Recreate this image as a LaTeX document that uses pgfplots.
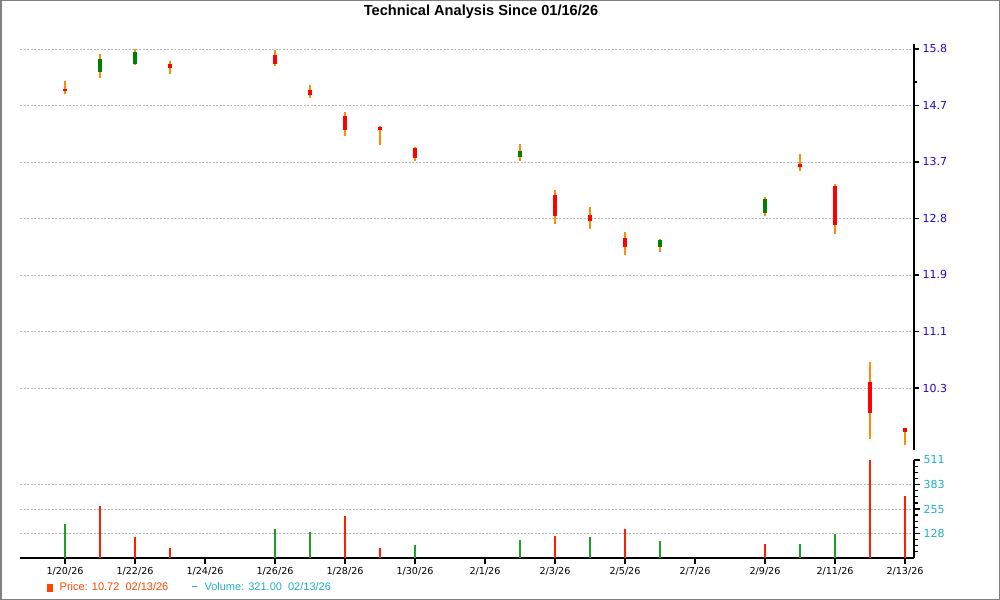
\documentclass[border=0pt]{standalone}
\usepackage{pgfplots}
\pgfplotsset{compat=1.18}
\usepackage{fontspec}
\setmainfont{Liberation Sans}
\newfontfamily\dvs{DejaVu Sans}
\definecolor{pblue}{RGB}{30,10,200}
\definecolor{vteal}{RGB}{30,175,195}
\definecolor{cred}{RGB}{255,0,0}
\definecolor{cgreen}{RGB}{0,128,0}
\definecolor{wick}{RGB}{255,140,0}
\definecolor{vred}{RGB}{255,30,0}
\definecolor{vgreen}{RGB}{30,160,40}
\definecolor{gridc}{RGB}{185,185,185}
\definecolor{legred}{RGB}{255,69,0}
\newcommand\candle[6]{%
  \addplot[wick, line width=1.3bp] coordinates {(#1,#3) (#1,#4)};
  \addplot[#6, line width=4.5bp] coordinates {(#1,#2) (#1,#5)};
}
\begin{document}
\begin{tikzpicture}
\path[use as bounding box] (0,0) rectangle (1000bp,600bp);
\draw[gray, line width=1.5bp] (0.75bp,0.75bp) rectangle (999.25bp,599.25bp);
\node[font=\bfseries\fontsize{14.6bp}{16bp}\selectfont] at (481bp,588bp) {Technical Analysis Since 01/16/26};
\begin{axis}[
  at={(20bp,150bp)}, anchor=south west,
  width=894bp, height=406bp, scale only axis,
  xmin=-1.286, xmax=24.257,
  ymode=log, ymin=9.526, ymax=15.90,
  axis x line=none, xtick=\empty,
  axis y line*=right,
  axis line style={line width=2bp, black},
  ytick={10.30,11.06,11.88,12.76,13.70,14.71,15.80},
  yticklabels={10.3,11.1,11.9,12.8,13.7,14.7,15.8},
  extra y ticks={15.156}, extra y tick labels={},
  extra y tick style={grid=none, major tick length=3bp},
  minor y tick num=0,
  yticklabel style={font=\dvs\fontsize{11bp}{12bp}\selectfont, text=pblue},
  ymajorgrids,
  major grid style={gridc, dashed, line width=0.8bp, dash pattern=on 2bp off 1.5bp},
  tick align=outside, major tick length=5bp,
  tick style={black, line width=1.2bp},
  /pgf/number format/assume math mode=true,
]
\candle{0}{15.03}{15.17}{14.93}{14.99}{cred}
\candle{1}{15.34}{15.70}{15.24}{15.60}{cgreen}
\candle{2}{15.50}{15.80}{15.49}{15.73}{cgreen}
\candle{3}{15.50}{15.56}{15.30}{15.42}{cred}
\candle{6}{15.69}{15.78}{15.47}{15.51}{cred}
\candle{7}{15.00}{15.10}{14.86}{14.90}{cred}
\candle{8}{14.51}{14.59}{14.16}{14.26}{cred}
\candle{9}{14.32}{14.34}{14.00}{14.26}{cred}
\candle{10}{13.94}{13.96}{13.71}{13.77}{cred}
\candle{13}{13.78}{14.01}{13.72}{13.89}{cgreen}
\candle{14}{13.14}{13.22}{12.67}{12.80}{cred}
\candle{15}{12.81}{12.94}{12.59}{12.71}{cred}
\candle{16}{12.45}{12.54}{12.19}{12.30}{cred}
\candle{17}{12.30}{12.43}{12.23}{12.41}{cgreen}
\candle{20}{12.84}{13.11}{12.80}{13.07}{cgreen}
\candle{21}{13.66}{13.84}{13.55}{13.61}{cred}
\candle{22}{13.29}{13.32}{12.51}{12.65}{cred}
\candle{23}{10.38}{10.64}{9.66}{9.98}{cred}
\candle{24}{9.79}{9.80}{9.58}{9.74}{cred}
\end{axis}
\begin{axis}[
  at={(20bp,42bp)}, anchor=south west,
  width=894bp, height=98bp, scale only axis,
  xmin=-1.286, xmax=24.257, ymin=0, ymax=511,
  axis x line*=bottom, axis y line*=right,
  axis line style={line width=2bp, black},
  xtick={0,2,...,24},
  xticklabels={1/20/26,1/22/26,1/24/26,1/26/26,1/28/26,1/30/26,2/1/26,2/3/26,2/5/26,2/7/26,2/9/26,2/11/26,2/13/26},
  xticklabel style={font=\dvs\fontsize{9.6bp}{11bp}\selectfont, text=black},
  ytick={128,255,383}, yticklabels={128,255,383},
  extra y ticks={511}, extra y tick labels={511},
  extra y tick style={grid=none},
  minor ytick={32,64,96,160,192,224,287,319,351,415,447,479},
  yticklabel style={font=\dvs\fontsize{11bp}{12bp}\selectfont, text=vteal},
  ymajorgrids,
  major grid style={gridc, dashed, line width=0.8bp, dash pattern=on 2bp off 1.5bp},
  tick align=outside, major tick length=6bp, minor tick length=4bp,
  tick style={black, line width=1.2bp},
  /pgf/number format/assume math mode=true,
  legend style={at={(0.027,-0.30)}, anchor=west, draw=none, fill=none,
    font=\fontsize{11bp}{13bp}\selectfont, legend columns=2,
    /tikz/every odd column/.append style={column sep=5bp},
    /tikz/every even column/.append style={column sep=21bp}},
  legend cell align=left,
]
\addlegendimage{legend image code/.code={\fill[legred] (0bp,-3.5bp) rectangle (5bp,3.5bp);}}
\addlegendentry{\textcolor{legred}{Price: 10.72\ \ 02/13/26}}
\addlegendimage{legend image code/.code={\draw[vteal, line width=1.2bp] (0bp,1bp) -- (5bp,1bp);}}
\addlegendentry{\textcolor{vteal}{Volume: 321.00\ \ 02/13/26}}
\addplot[vred, ycomb, line width=1.3bp, forget plot] coordinates {(1,270)(2,107)(3,54)(8,218)(9,51)(14,113)(16,150)(20,75)(23,510)(24,321)};
\addplot[vgreen, ycomb, line width=1.3bp, forget plot] coordinates {(0,176)(6,150)(7,134)(10,66)(13,92)(15,107)(17,87)(21,72)(22,124)};
\end{axis}
\end{tikzpicture}
\end{document}
